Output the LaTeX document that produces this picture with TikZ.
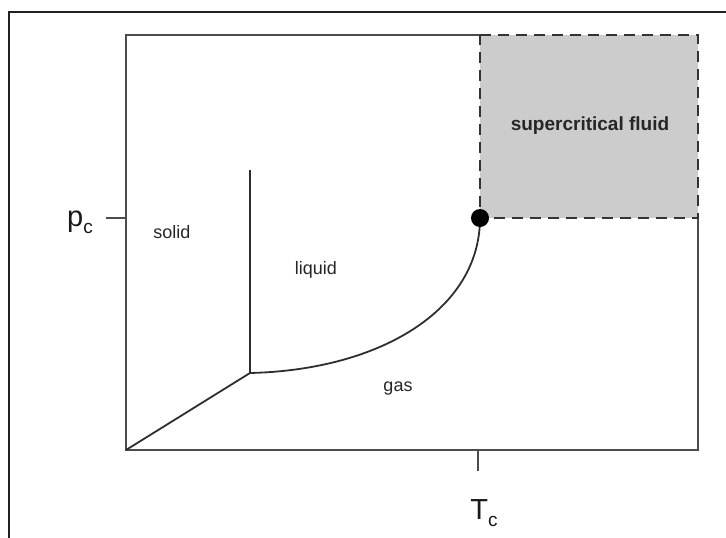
\documentclass[tikz,border=0pt]{standalone}
\usepackage{fontspec}
\setmainfont{Liberation Sans}
\begin{document}
\begin{tikzpicture}[x=1pt,y=-1pt,
  framelin/.style={draw=black!87,line width=2.2pt},
  boxline/.style={draw=black!70,line width=1.9pt},
  phaseline/.style={draw=black!82,line width=1.8pt},
  scdash/.style={draw=black!80,line width=2.4pt,dash pattern=on 11pt off 7pt},
  lbl/.style={text=black!85,inner sep=0pt,font=\fontsize{18}{21}\selectfont},
  biglbl/.style={text=black!90,inner sep=0pt,font=\fontsize{29}{33}\selectfont}]
\useasboundingbox (0,0) rectangle (726,538);
% outer frame
\coordinate (fbl) at (9,540);
\coordinate (ftl) at (9,12);
\coordinate (ftr) at (728,12);
\draw[framelin] (fbl) -- (ftl) -- (ftr);
% plot box corners
\coordinate (O) at (126,450);
\coordinate (TL) at (126,35);
\coordinate (TC) at (480,35);
\coordinate (TR) at (698,35);
\coordinate (RC) at (698,218);
\coordinate (BR) at (698,450);
\coordinate (CP) at (480,218);
\coordinate (TP) at (250,373);
\coordinate (ML) at (250,170);
% supercritical region
\fill[black!20] (TC) rectangle (RC);
\draw[boxline] (RC) -- (BR) -- (O) -- (TL) -- (TC);
\draw[scdash] (TC) -- (TR) -- (RC) -- (CP) -- cycle;
% phase boundaries
\draw[phaseline] (O) -- (TP);
\draw[phaseline] (TP) -- (ML);
\draw[phaseline] (TP) .. controls (380,370) and (480,310) .. (CP);
\fill[black] (CP) circle (9);
% ticks
\coordinate (pt) at (106,218);
\coordinate (pb) at (126,218);
\draw[boxline] (pt) -- (pb);
\coordinate (tt) at (478,450);
\coordinate (tb) at (478,471);
\draw[boxline] (tt) -- (tb);
% labels
\node[lbl] (solid) at (172,232) {solid};
\node[lbl] (liquid) at (316,270) {liquid};
\node[lbl] (gas) at (398,389) {gas};
\node[inner sep=0pt,text=black!85,font=\bfseries\fontsize{19}{22}\selectfont] (scf) at (590,126) {supercritical fluid};
\node[biglbl,anchor=base] (pc) at (80,226) {p\raisebox{-0.25em}{\fontsize{19}{22}\selectfont c}};
\node[biglbl,anchor=base] (Tc) at (484,519) {T\raisebox{-0.25em}{\fontsize{19}{22}\selectfont c}};
\end{tikzpicture}
\end{document}
